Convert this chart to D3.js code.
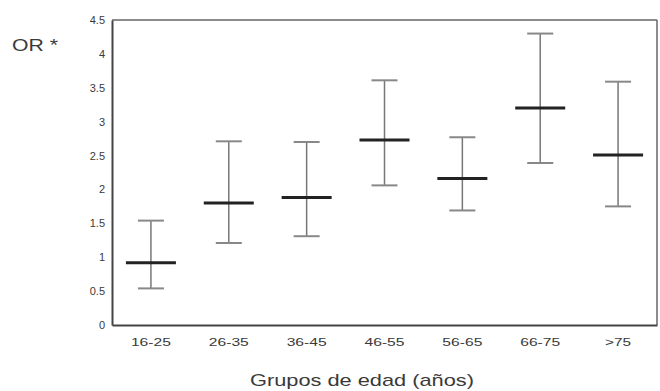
<!DOCTYPE html>
<html>
<head>
<meta charset="utf-8">
<script src="https://cdn.jsdelivr.net/npm/d3@7"></script>
<style>
  body { margin: 0; background: #fff; }
  text { font-family: "Liberation Sans", Arial, sans-serif; fill: #3a3a3a; }
</style>
</head>
<body>
<div id="chart"></div>
<script>
// age groups and odds ratios (point estimate + CI)
var groups = ['16-25', '26-35', '36-45', '46-55', '56-65', '66-75', '>75'];
var orValues = [0.92, 1.80, 1.88, 2.73, 2.16, 3.20, 2.51];
var lowerCI = [0.54, 1.21, 1.31, 2.06, 1.69, 2.39, 1.75];
var upperCI = [1.54, 2.71, 2.70, 3.61, 2.77, 4.30, 3.59];
var yTicks = [0, 0.5, 1, 1.5, 2, 2.5, 3, 3.5, 4, 4.5];

var width = 660;
var height = 391;
var margin = { top: 20, right: 3, bottom: 66, left: 112 };
var innerW = width - margin.left - margin.right;
var innerH = height - margin.top - margin.bottom;

var svg = d3.select('#chart')
  .append('svg')
  .attr('width', width)
  .attr('height', height);

var g = svg.append('g')
  .attr('transform', 'translate(' + margin.left + ',' + margin.top + ')');

var x = d3.scaleBand()
  .domain(groups)
  .range([0, innerW]);

var y = d3.scaleLinear()
  .domain([0, 4.5])
  .range([innerH, 0]);

var data = groups.map(function(d, i) {
  return { group: d, or: orValues[i], lo: lowerCI[i], hi: upperCI[i] };
});

// frame: top and right borders lighter
g.append('line')
  .attr('x1', 0).attr('x2', innerW)
  .attr('y1', 0).attr('y2', 0)
  .attr('stroke', '#666').attr('stroke-width', 1.5);
g.append('line')
  .attr('x1', innerW).attr('x2', innerW)
  .attr('y1', 0).attr('y2', innerH)
  .attr('stroke', '#666').attr('stroke-width', 1.5);

// axes
var yAxis = g.append('g')
  .call(d3.axisLeft(y).tickValues(yTicks).tickSize(0).tickPadding(7).tickFormat(d3.format('')));
yAxis.select('.domain').attr('stroke', '#444').attr('stroke-width', 2);
yAxis.selectAll('text').style('font-size', '11px').attr('fill', '#3a3a3a');

var xAxis = g.append('g')
  .attr('transform', 'translate(0,' + innerH + ')')
  .call(d3.axisBottom(x).tickSize(0).tickPadding(13));
xAxis.select('.domain').attr('stroke', '#444').attr('stroke-width', 2);
xAxis.selectAll('text').style('font-size', '11.5px').attr('fill', '#3a3a3a')
  .attr('textLength', 40).attr('lengthAdjust', 'spacingAndGlyphs');
xAxis.selectAll('.tick').filter(function(d) { return d === '>75'; })
  .select('text').attr('textLength', 26);

// error bars
var cx = function(d) { return x(d.group) + x.bandwidth() / 2; };
var bars = g.selectAll('.bar')
  .data(data)
  .enter()
  .append('g');

bars.append('line')
  .attr('x1', cx).attr('x2', cx)
  .attr('y1', function(d) { return y(d.lo); })
  .attr('y2', function(d) { return y(d.hi); })
  .attr('stroke', '#777').attr('stroke-width', 1.5);

bars.append('line')
  .attr('x1', function(d) { return cx(d) - 13; })
  .attr('x2', function(d) { return cx(d) + 13; })
  .attr('y1', function(d) { return y(d.hi); })
  .attr('y2', function(d) { return y(d.hi); })
  .attr('stroke', '#888').attr('stroke-width', 2);

bars.append('line')
  .attr('x1', function(d) { return cx(d) - 13; })
  .attr('x2', function(d) { return cx(d) + 13; })
  .attr('y1', function(d) { return y(d.lo); })
  .attr('y2', function(d) { return y(d.lo); })
  .attr('stroke', '#888').attr('stroke-width', 2);

bars.append('line')
  .attr('x1', function(d) { return cx(d) - 25; })
  .attr('x2', function(d) { return cx(d) + 25; })
  .attr('y1', function(d) { return y(d.or); })
  .attr('y2', function(d) { return y(d.or); })
  .attr('stroke', '#222').attr('stroke-width', 3);

// labels
svg.append('text')
  .attr('x', 12).attr('y', 51)
  .attr('textLength', 46).attr('lengthAdjust', 'spacingAndGlyphs')
  .style('font-size', '17px')
  .text('OR *');

svg.append('text')
  .attr('x', 250).attr('y', 386)
  .attr('textLength', 224).attr('lengthAdjust', 'spacingAndGlyphs')
  .style('font-size', '17px')
  .text('Grupos de edad (años)');
</script>
</body>
</html>
